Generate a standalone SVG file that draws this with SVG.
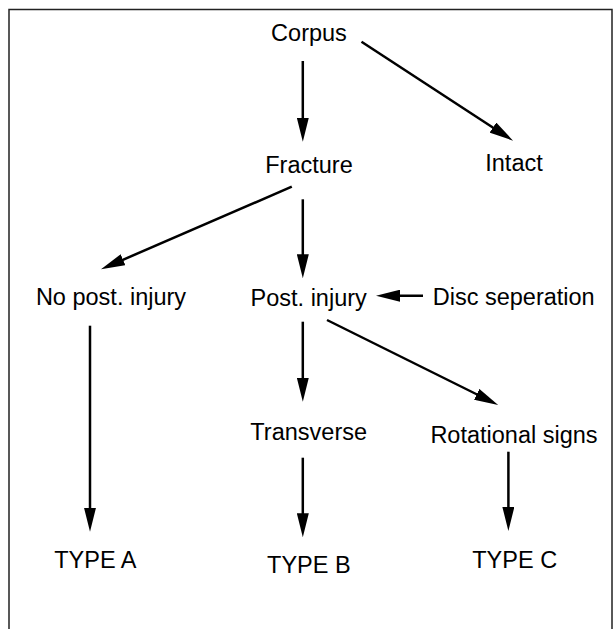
<svg xmlns="http://www.w3.org/2000/svg" width="613" height="629" viewBox="0 0 613 629">
<defs>
<style>
.lbl{font-family:"Liberation Sans",Arial,Helvetica,sans-serif;font-size:23.5px;fill:#000;text-anchor:middle}
.edge{stroke:#000;stroke-width:2.5;fill:none;marker-end:url(#ah)}
</style>
<marker id="ah" markerUnits="userSpaceOnUse" markerWidth="24" markerHeight="12" refX="14" refY="6" orient="auto" viewBox="0 0 24 12">
<path d="M0,0 L24,6 L0,12 z" fill="#000"/>
</marker>
</defs>
<rect x="0" y="0" width="613" height="629" fill="#fff"/>
<rect x="9" y="9.5" width="603" height="630" fill="none" stroke="#222" stroke-width="1.5"/>
<g id="connectors">
<line class="edge" x1="302.8" y1="61" x2="302.8" y2="131.7"/>
<line class="edge" x1="361.5" y1="41.7" x2="504.7" y2="135.2"/>
<line class="edge" x1="291.8" y1="186.7" x2="110.2" y2="265.3"/>
<line class="edge" x1="302.8" y1="199.3" x2="302.8" y2="268.3"/>
<line class="edge" x1="423" y1="295.7" x2="386" y2="295.7"/>
<line class="edge" x1="302.8" y1="321.7" x2="302.8" y2="391.7"/>
<line class="edge" x1="327" y1="320" x2="489.2" y2="400.5"/>
<line class="edge" x1="90" y1="325.7" x2="90" y2="521.7"/>
<line class="edge" x1="302.8" y1="457.7" x2="302.8" y2="527.3"/>
<line class="edge" x1="508.4" y1="451.7" x2="508.4" y2="521"/>
</g>
<g id="corpus"><text class="lbl" x="309" y="40.7">Corpus</text></g>
<g id="fracture"><text class="lbl" x="309" y="173.3">Fracture</text></g>
<g id="intact"><text class="lbl" x="514" y="171">Intact</text></g>
<g id="no-post-injury"><text class="lbl" x="111" y="305">No post. injury</text></g>
<g id="post-injury"><text class="lbl" x="308.7" y="305.5">Post. injury</text></g>
<g id="disc-seperation"><text class="lbl" x="513.7" y="305">Disc seperation</text></g>
<g id="transverse"><text class="lbl" x="308.7" y="440">Transverse</text></g>
<g id="rotational-signs"><text class="lbl" x="514" y="443.3">Rotational signs</text></g>
<g id="type-a"><text class="lbl" x="95.4" y="568.3">TYPE A</text></g>
<g id="type-b"><text class="lbl" x="308.9" y="572.7">TYPE B</text></g>
<g id="type-c"><text class="lbl" x="514.7" y="568.3">TYPE C</text></g>
</svg>
